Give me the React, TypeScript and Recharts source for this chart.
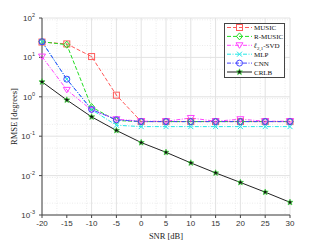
import { LineChart, Line, XAxis, YAxis, CartesianGrid } from "recharts";

const snr = [-20, -15, -10, -5, 0, 5, 10, 15, 20, 25, 30];
const music = [24.5, 22, 10.5, 1.1, 0.235, 0.235, 0.235, 0.235, 0.235, 0.235, 0.235];
const rMusic = [25, 21, 0.55, 0.25, 0.235, 0.235, 0.235, 0.235, 0.235, 0.235, 0.235];
const l21Svd = [10.5, 1.5, 0.46, 0.27, 0.24, 0.24, 0.29, 0.24, 0.27, 0.24, 0.24];
const mlp = [25, 2.8, 0.47, 0.19, 0.175, 0.175, 0.175, 0.175, 0.175, 0.175, 0.175];
const cnn = [25, 2.8, 0.48, 0.26, 0.235, 0.235, 0.235, 0.235, 0.235, 0.235, 0.235];
const crlb = [2.4, 0.83, 0.31, 0.14, 0.069, 0.039, 0.021, 0.0117, 0.0067, 0.0038, 0.0021];

const xTicks = [-20, -15, -10, -5, 0, 5, 10, 15, 20, 25, 30];
const yTicks = [0.001, 0.01, 0.1, 1, 10, 100];

const data = snr.map((s, i) => ({
    snr: s,
    music: music[i],
    rMusic: rMusic[i],
    l21Svd: l21Svd[i],
    mlp: mlp[i],
    cnn: cnn[i],
    crlb: crlb[i],
}));

// minor grid values (log decades on y, 1 dB on x)
const yMinor: number[] = [];
for (let e = -3; e < 2; e++) {
    for (let k = 2; k < 10; k++) yMinor.push(k * Math.pow(10, e));
}
const xMinor: number[] = [];
for (let v = -20; v <= 30; v++) if (v % 5 !== 0) xMinor.push(v);

type Kind = "square" | "diamond" | "tri" | "x" | "circle" | "star";

const Marker = ({ kind, cx, cy, color }: { kind: Kind; cx: number; cy: number; color: string }) => {
    const r = 3;
    if (kind === "square")
        return (
            <g>
                <rect x={cx - r} y={cy - r} width={2 * r} height={2 * r} fill="none" stroke={color} strokeWidth={1} />
                <circle cx={cx} cy={cy} r={0.6} fill={color} />
            </g>
        );
    if (kind === "diamond")
        return (
            <path
                d={`M${cx},${cy - r - 0.5}L${cx + r},${cy}L${cx},${cy + r + 0.5}L${cx - r},${cy}Z`}
                fill="none"
                stroke={color}
                strokeWidth={1}
            />
        );
    if (kind === "tri")
        return (
            <path
                d={`M${cx - r - 0.5},${cy - r + 0.5}L${cx + r + 0.5},${cy - r + 0.5}L${cx},${cy + r}Z`}
                fill="none"
                stroke={color}
                strokeWidth={1}
            />
        );
    if (kind === "x")
        return (
            <path
                d={`M${cx - 2.5},${cy - 2.5}L${cx + 2.5},${cy + 2.5}M${cx - 2.5},${cy + 2.5}L${cx + 2.5},${cy - 2.5}`}
                stroke={color}
                strokeWidth={1}
            />
        );
    if (kind === "circle") return <circle cx={cx} cy={cy} r={r} fill="none" stroke={color} strokeWidth={1} />;
    const pts: string[] = [];
    for (let i = 0; i < 10; i++) {
        const a = -Math.PI / 2 + (i * Math.PI) / 5;
        const rr = i % 2 === 0 ? 3.2 : 1.4;
        pts.push(`${cx + rr * Math.cos(a)},${cy + rr * Math.sin(a)}`);
    }
    return <polygon points={pts.join(" ")} fill="#111" stroke="#44dd44" strokeWidth={0.7} />;
};

const series: { key: string; name: React.ReactNode; color: string; dash?: string; kind: Kind }[] = [
    { key: "music", name: "MUSIC", color: "#ff5a5a", dash: "4 2", kind: "square" },
    { key: "rMusic", name: "R-MUSIC", color: "#22dd22", dash: "4 2", kind: "diamond" },
    {
        key: "l21Svd",
        name: (
            <tspan>
                <tspan fontStyle="italic">ℓ</tspan>
                <tspan dy={2} fontSize={5}>2,1</tspan>
                <tspan dy={-2}>-SVD</tspan>
            </tspan>
        ),
        color: "#ff44ff",
        dash: "4 1.5 1 1.5",
        kind: "tri",
    },
    { key: "mlp", name: "MLP", color: "#22e6e6", dash: "4 1.5 1 1.5", kind: "x" },
    { key: "cnn", name: "CNN", color: "#4444ff", dash: "4 1.5 1 1.5", kind: "circle" },
    { key: "crlb", name: "CRLB", color: "#222222", kind: "star" },
];

const YTick = ({ x, y, payload }: any) => {
    const exp = Math.round(Math.log10(payload.value));
    return (
        <text x={x - 2} y={y + 3} textAnchor="end" fontSize={8} fill="#333" fontFamily="Liberation Sans">
            10
            <tspan dy={-4} fontSize={5.5}>
                {exp}
            </tspan>
        </text>
    );
};

const LegendBox = () => (
    <div
        style={{
            position: "absolute",
            left: 224,
            top: 23,
            width: 61,
            height: 55,
            border: "1px solid #444",
            background: "#fff",
            boxSizing: "border-box",
        }}
    >
        <svg width={59} height={53} style={{ display: "block" }}>
            {series.map((s, i) => {
                const y = 3.5 + i * 8.9;
                return (
                    <g key={s.key}>
                        <line x1={2} x2={27} y1={y} y2={y} stroke={s.color} strokeWidth={1} strokeDasharray={s.dash} />
                        <Marker kind={s.kind} cx={14.5} cy={y} color={s.color} />
                        <text x={29} y={y + 2.5} fontSize={7} fill="#111" fontFamily="Liberation Serif">
                            {s.name}
                        </text>
                    </g>
                );
            })}
        </svg>
    </div>
);

const App = () => (
    <div style={{ position: "fixed", left: 0, top: 0, width: 321, height: 241, background: "#fff" }}>
        <LineChart width={321} height={241} data={data} margin={{ top: 18, right: 31, bottom: 0, left: 0 }}>
            <CartesianGrid
                stroke="#ebebeb"
                strokeDasharray="1 1.5"
                horizontalValues={yMinor}
                verticalValues={xMinor}
            />
            <CartesianGrid stroke="#e2e2e2" horizontalValues={yTicks} verticalValues={xTicks} />
            <XAxis
                dataKey="snr"
                type="number"
                domain={[-20, 30]}
                ticks={xTicks}
                height={26}
                stroke="#444"
                tickSize={3}
                tick={{ fontSize: 8, fill: "#333", fontFamily: "Liberation Sans" }}
                label={{
                    value: "SNR [dB]",
                    position: "insideBottom",
                    offset: 2,
                    fontSize: 8.5,
                    fill: "#222",
                    fontFamily: "Liberation Serif",
                }}
            />
            <XAxis xAxisId="top" orientation="top" type="number" domain={[-20, 30]} height={0} tick={false} stroke="#444" dataKey="snr" />
            <YAxis
                scale="log"
                type="number"
                domain={[0.001, 100]}
                ticks={yTicks}
                allowDataOverflow
                width={42}
                stroke="#444"
                tickSize={3}
                tick={<YTick />}
                label={{
                    value: "RMSE [degrees]",
                    angle: -90,
                    position: "insideLeft",
                    offset: 14,
                    fontSize: 8.5,
                    fill: "#222",
                    fontFamily: "Liberation Serif",
                    style: { textAnchor: "middle" },
                }}
            />
            <YAxis
                yAxisId="right"
                orientation="right"
                scale="log"
                type="number"
                domain={[0.001, 100]}
                allowDataOverflow
                width={0}
                tick={false}
                stroke="#444"
            />
            {series.map((s) => (
                <Line
                    key={s.key}
                    dataKey={s.key}
                    stroke={s.color}
                    strokeWidth={1}
                    strokeDasharray={s.dash}
                    isAnimationActive={false}
                    dot={(p: any) => <Marker key={`${s.key}-${p.index}`} kind={s.kind} cx={p.cx} cy={p.cy} color={s.color} />}
                    activeDot={false}
                />
            ))}
        </LineChart>
        <LegendBox />
    </div>
);

export default App;
